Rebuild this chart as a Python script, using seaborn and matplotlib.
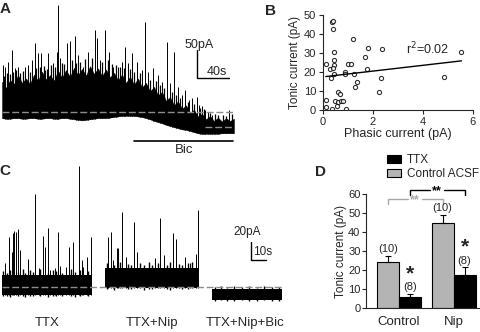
import numpy as np
import pandas as pd
import matplotlib
matplotlib.use('Agg')
import matplotlib.pyplot as plt
import seaborn as sns
from matplotlib.patches import Patch

W, H = 481, 332

# ---- panel A: whole-cell recording, bicuculline applied at the end (s, pA)
a_env_t = list(range(0, 295, 5))
a_env_top = [54, 43, 57, 50, 66, 52, 60, 50, 67, 56, 72, 58, 66, 56, 74, 61, 75, 63, 79, 66,
             77, 65, 82, 68, 78, 64, 76, 62, 70, 57, 67, 52, 63, 49, 60, 44, 52, 37, 45, 30,
             36, 20, 27, 12, 19, 6, 12, -1, 4, -8, -3, -13, -7, -16, -10, -17, -11, -16, -12]
a_env_bottom = [-11, -12, -12, -11, -11, -12, -12, -11, -11, -12, -12, -11, -11, -12, -12,
                -11, -11, -12, -13, -14, -15, -14, -13, -12, -11, -11, -11, -10, -9, -8,
                -7, -7, -7, -7, -8, -9, -11, -13, -16, -18, -20, -23, -25, -27, -29, -31,
                -32, -34, -36, -38, -39, -39, -39, -39, -39, -38, -38, -38, -38]
a_spike_t = [1, 4, 8, 12, 16, 20, 29, 32, 38, 41, 45, 49, 54, 58, 64, 69, 70, 72,
             81, 85, 91, 95, 101, 107, 110, 116, 119, 122, 129, 134, 139, 145, 150,
             154, 157, 162, 169, 175, 179, 182, 189, 195, 200, 206, 210, 215, 220,
             225, 229, 234, 237, 244, 246, 250, 254, 257, 262, 284]
a_spike_amp = [84, 80, 89, 111, 79, 80, 80, 84, 93, 123, 105, 105, 75, 105, 88, 107, 191, 96,
               123, 127, 136, 102, 80, 107, 75, 146, 132, 93, 146, 107, 80, 80, 89,
               116, 88, 105, 89, 75, 161, 71, 79, 66, 54, 125, 52, 107, 45,
               30, 39, 21, 25, 27, 12, 11, 4, 0, -5, 4]
a_small_t = [3, 6, 10, 14, 18, 23, 26, 35, 43, 47, 52, 56, 61, 66, 75, 78, 88, 93, 98, 104,
             113, 125, 132, 137, 142, 148, 152, 160, 165, 172, 185, 192, 198, 203, 213, 218,
             223, 232, 240, 248, 252, 260, 266, 270, 276, 280, 287]
a_small_amp = [65, 70, 68, 72, 75, 70, 74, 72, 78, 80, 82, 76, 84, 80, 88, 85, 92, 88, 90, 95,
               96, 90, 92, 85, 84, 80, 78, 76, 72, 70, 58, 55, 48, 42, 35, 30,
               25, 18, 14, 8, 5, -2, -4, -6, -5, -8, -3]
a_bic = [165, 289]
a_new_base = -27

# ---- panel C: recordings in TTX, TTX+Nip, TTX+Nip+Bic (s, pA)
c_seg_start = [0, 68.7, 140]
c_seg_end = [60, 130.7, 187]
c_seg_top = [13, 21, -2]
c_seg_bottom = [-9, -1, -14]
c_spike_t = [2, 4.7, 6.7, 7.3, 8, 9.3, 10.7, 12, 17.3, 22, 24.7, 27.3, 28.7, 30.7, 32,
             35.3, 37.3, 38.7, 42.7, 44.7, 47.3, 51.3, 53.3, 54, 56.7, 59.3,
             70.7, 72.7, 74, 76.7, 77.3, 80, 82.7, 88, 90, 102, 105.3, 108, 114, 116,
             122, 125.3, 129.3, 130.7]
c_spike_amp = [27, 56, 39, 60, 62, 61, 64, 41, 31, 103, 21, 57, 44, 66, 19,
               21, 61, 23, 22, 44, 50, 134, 30, 22, 33, 56,
               56, 61, 30, 43, 43, 83, 33, 72, 39, 32, 77, 36, 60, 53,
               33, 27, 37, 86]
c_small_t = [1, 3.5, 5.5, 11, 14, 15.5, 19, 21, 25.5, 31, 34, 36, 40, 46, 49, 52, 57.5,
             70, 75, 79, 84, 86, 92, 95, 98, 100, 104, 110, 112, 118, 120, 124, 127,
             142, 146, 150, 155, 160, 165, 170, 175, 180, 185]
c_small_amp = [18, 16, 19, 17, 20, 16, 19, 17, 20, 16, 19, 18, 16, 20, 17, 19, 18,
               27, 25, 28, 26, 24, 27, 25, 28, 25, 27, 24, 28, 26, 25, 27, 28,
               0, 1, -1, 1, 0, 1, -1, 1, 0, 0]
c_small_low = [1.5, 0.5, 2, 1, 0.5, 2, 1, 1.5, 0.5, 2, 1, 0.5, 1.5, 1, 2, 0.5, 1,
               1, 2, 0.5, 1.5, 1, 0.5, 2, 1, 1.5, 0.5, 1, 2, 0.5, 1.5, 1, 0.5,
               1, 0.5, 1.5, 1, 0.5, 1.5, 1, 0.5, 1, 1.5]
c_labels = ['TTX', 'TTX+Nip', 'TTX+Nip+Bic']
c_label_t = [30, 100, 162]

# ---- panel B: tonic vs phasic current
phasic = [0.36, 0.42, 0.40, 0.45, 0.45, 0.46, 0.13, 0.27, 0.40, 0.32, 0.45, 0.11, 0.11,
          0.36, 0.49, 0.60, 0.69, 0.58, 0.62, 0.73, 0.82, 0.93, 0.89, 0.89, 1.02, 1.13,
          1.22, 1.25, 1.29, 1.35, 1.69, 1.75, 1.82, 2.34, 2.26, 2.35, 4.83, 5.54]
tonic = [46.5, 47, 42.6, 30.7, 26.3, 23.7, 24.2, 21.4, 22.3, 16.7, 19, 5.3, 1.8,
         0.4, 4.9, 9.6, 8.4, 2.1, 4.4, 4.9, 4.9, 0.4, 20.2, 19, 24, 24,
         37.4, 19, 12.3, 14.6, 27.7, 21.4, 32.8, 16.7, 9.6, 32.1, 17.5, 30.5]

# ---- panel D: tonic current by condition
groups = ['Control', 'Nip']
acsf_mean = [24.2, 44.6]
acsf_sem = [3.3, 4.6]
ttx_mean = [5.6, 17.6]
ttx_sem = [1.9, 3.8]
acsf_n = [10, 10]
ttx_n = [8, 8]

sns.set_style('ticks')
plt.rcParams['font.family'] = ['Liberation Sans', 'DejaVu Sans']
plt.rcParams['axes.linewidth'] = 0.8

fig = plt.figure(figsize=(W / 100, H / 100), dpi=100)


def box(x0, y0, x1, y1):
    return [x0 / W, 1 - y1 / H, (x1 - x0) / W, (y1 - y0) / H]


def ftext(x, y, s, **kw):
    fig.text(x / W, 1 - y / H, s, **kw)


grey = '#8c8c8c'

# ---------------- A
ax = fig.add_axes(box(0, 0, 240, 155))
ax.set_xlim(-2.5, 297.5)
ax.set_ylim((112 - 155) / 0.56, 200)
ax.axis('off')
ax.fill_between(a_env_t, a_env_bottom, a_env_top, color='black', lw=0.3)
low = np.interp(a_spike_t, a_env_t, a_env_bottom)
ax.vlines(a_spike_t, low, a_spike_amp, color='black', lw=0.7)
low = np.interp(a_small_t, a_env_t, a_env_bottom)
ax.vlines(a_small_t, low, a_small_amp, color='black', lw=0.9)
ax.plot([a_env_t[0], a_env_t[-1]], [0, 0], color=grey, lw=1, dashes=(5, 2))
ax.plot([254, a_env_t[-1]], [a_new_base, a_new_base], color=grey, lw=1, dashes=(5, 2))
ax.plot(a_bic, [-51.8, -51.8], color='black', lw=1.2)
ax.text(sum(a_bic) / 2 + 1, -68, 'Bic', ha='center', va='center', fontsize=9.5)
ax.plot([243.75, 243.75, 283.75], [110.7, 60.7, 60.7], color='black', lw=1)
ax.text(246, 120, '50pA', ha='center', va='center', fontsize=9)
ax.text(268, 71, '40s', ha='center', va='center', fontsize=9)

# ---------------- B
ax = fig.add_axes(box(323, 15, 473, 110))
df_b = pd.DataFrame({'Phasic': phasic, 'Tonic': tonic})
sns.regplot(data=df_b, x='Phasic', y='Tonic', ax=ax, ci=None, truncate=True,
            scatter_kws=dict(marker='D', s=9, facecolors='white', edgecolors='black', linewidths=0.8),
            line_kws=dict(color='black', lw=1))
ax.set_xlim(0, 6)
ax.set_ylim(0, 50)
ax.set_xticks([0, 2, 4, 6])
ax.set_yticks([0, 10, 20, 30, 40, 50])
ax.tick_params(labelsize=8, length=3, width=0.8, pad=2)
ax.set_xlabel('Phasic current (pA)', fontsize=9, labelpad=1)
ax.set_ylabel('Tonic current (pA)', fontsize=8.5, labelpad=2)
sns.despine(ax=ax)
ax.text(4.2, 32, 'r$^2$=0.02', ha='center', va='center', fontsize=9)

# ---------------- C
ax = fig.add_axes(box(0, 160, 290, 310))
ax.set_xlim(-1.33, 192)
ax.set_ylim((287 - 310) / 0.9, (287 - 160) / 0.9)
ax.axis('off')
for s, e, top, bot in zip(c_seg_start, c_seg_end, c_seg_top, c_seg_bottom):
    ax.fill_between([s, e], [bot, bot], [top, top], color='black', lw=0)


def seg_bottom(times):
    out = []
    for t in times:
        for s, e, bot in zip(c_seg_start, c_seg_end, c_seg_bottom):
            if s <= t <= e:
                out.append(bot)
    return out


ax.vlines(c_spike_t, seg_bottom(c_spike_t), c_spike_amp, color='black', lw=0.7)
ax.vlines(c_small_t, np.array(seg_bottom(c_small_t)) - np.array(c_small_low), c_small_amp,
          color='black', lw=1)
ax.plot([c_seg_start[0], c_seg_end[-1]], [0, 0], color=grey, lw=1, dashes=(5, 2))
for lab, t in zip(c_labels, c_label_t):
    ax.text(t, -40, lab, ha='center', va='center', fontsize=9.5)
ax.plot([166, 166, 176], [50, 30, 30], color='black', lw=1)
ax.text(163.3, 61, '20pA', ha='center', va='center', fontsize=8.5)
ax.text(173.5, 39, '10s', ha='center', va='center', fontsize=8.5)

# ---------------- D
ax = fig.add_axes(box(366, 194, 481, 308))
df_d = pd.DataFrame({
    'group': groups * 2,
    'condition': ['Control ACSF'] * 2 + ['TTX'] * 2,
    'current': acsf_mean + ttx_mean,
})
sns.barplot(data=df_d, x='group', y='current', hue='condition',
            hue_order=['Control ACSF', 'TTX'], palette=['#b4b4b4', 'black'],
            edgecolor='black', linewidth=0.8, errorbar=None, legend=False, ax=ax)
xs_acsf = np.arange(len(groups)) - 0.2
xs_ttx = np.arange(len(groups)) + 0.2
ax.errorbar(xs_acsf, acsf_mean, yerr=[[0] * 2, acsf_sem], fmt='none', ecolor='black',
            elinewidth=0.8, capsize=2.5, capthick=0.8)
ax.errorbar(xs_ttx, ttx_mean, yerr=[[0] * 2, ttx_sem], fmt='none', ecolor='black',
            elinewidth=0.8, capsize=2.5, capthick=0.8)
for x, m, e, n in zip(xs_acsf, acsf_mean, acsf_sem, acsf_n):
    ax.text(x, m + e + 3.5, f'({n})', ha='center', va='center', fontsize=8)
for x, m, e, n in zip(xs_ttx, ttx_mean, ttx_sem, ttx_n):
    ax.text(x, m + e + 3.5, f'({n})', ha='center', va='center', fontsize=8)
    ax.text(x, m + e + 10.5, '*', ha='center', va='center', fontsize=15, fontweight='bold')


def bracket(x0, x1, y, color):
    mid = (x0 + x1) / 2
    gap = 0.13
    ax.plot([x0, x0, mid - gap], [y - 2.5, y, y], color=color, lw=1, clip_on=False)
    ax.plot([mid + gap, x1, x1], [y, y, y - 2.5], color=color, lw=1, clip_on=False)
    ax.text(mid, y - 0.6, '**', ha='center', va='center', fontsize=9,
            color=color, fontweight='bold')


bracket(xs_acsf[0], xs_acsf[1], 57.4, '#a8a8a8')
bracket(xs_ttx[0], xs_ttx[1], 62, 'black')
ax.set_xlim(-0.6, 1.5)
ax.set_ylim(0, 60)
ax.set_yticks(range(0, 61, 10))
ax.tick_params(axis='y', labelsize=8, length=3, width=0.8, pad=1)
ax.tick_params(axis='x', labelsize=9.5, length=0, pad=6)
ax.set_xlabel('')
ax.set_ylabel('Tonic current (pA)', fontsize=8.5, labelpad=1)
sns.despine(ax=ax)
handles = [Patch(facecolor='black', edgecolor='black', lw=0.8),
           Patch(facecolor='#b4b4b4', edgecolor='black', lw=0.8)]
fig.legend(handles, ['TTX', 'Control ACSF'], loc='upper left',
           bbox_to_anchor=(387 / W, 1 - 154 / H), frameon=False, fontsize=8.5,
           handlelength=1.2, handleheight=0.6, handletextpad=0.5, labelspacing=0.2,
           borderpad=0, borderaxespad=0)

# panel letters
for lab, x, y in [('A', 5, 9), ('B', 270, 11), ('C', 5, 171), ('D', 320, 172)]:
    ftext(x, y, lab, ha='center', va='center', fontsize=11, fontweight='bold')

fig.savefig('out.png', dpi=100)
